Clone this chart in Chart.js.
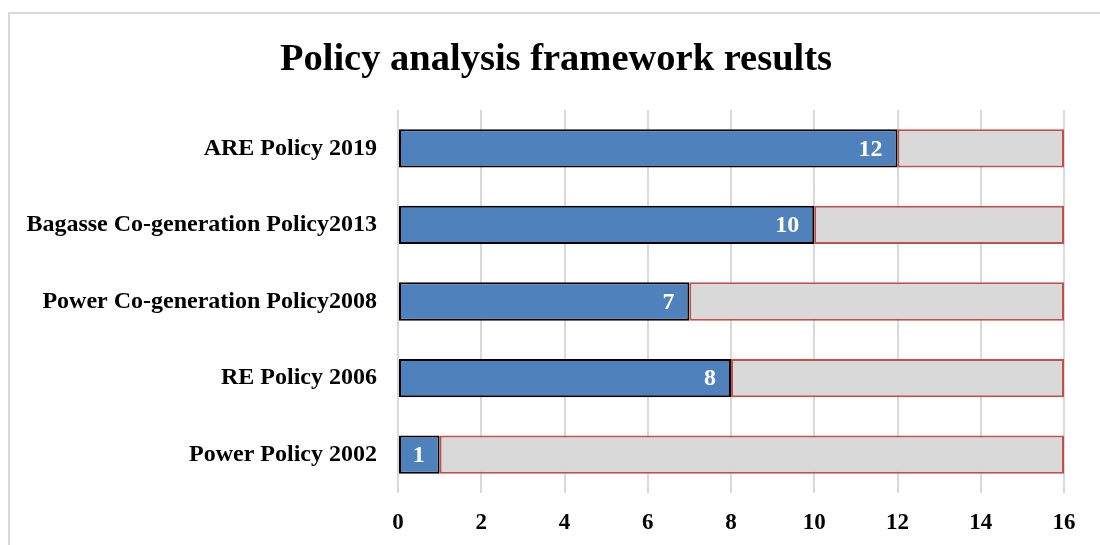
<!DOCTYPE html>
<html>
<head>
<meta charset="utf-8">
<script src="https://cdn.jsdelivr.net/npm/chart.js@4/dist/chart.umd.min.js"></script>
<style>
  html, body { margin: 0; padding: 0; background: #fff; }
  #wrap { width: 1100px; height: 545px; position: relative; }
</style>
</head>
<body>
<div id="wrap"><canvas id="c" width="1100" height="545"></canvas></div>
<script>
const categories = [
  "ARE Policy 2019",
  "Bagasse Co-generation Policy2013",
  "Power Co-generation Policy2008",
  "RE Policy 2006",
  "Power Policy 2002"
];
const scores = [12, 10, 7, 8, 1];
const remaining = [4, 6, 9, 8, 15];
const xTicks = [0, 2, 4, 6, 8, 10, 12, 14, 16];
const chartTitle = "Policy analysis framework results";

const FONT = "'Liberation Serif', 'Times New Roman', serif";

const frame = {
  id: 'frame',
  afterLayout(chart) {
    const t = chart.titleBlock;
    if (t) { t.left = 48; t.width = t.right - t.left; }
  },
  beforeDraw(chart) {
    const ctx = chart.ctx;
    ctx.save();
    ctx.fillStyle = '#fff';
    ctx.fillRect(0, 0, chart.width, chart.height);
    ctx.strokeStyle = '#d9d9d9';
    ctx.lineWidth = 2;
    ctx.strokeRect(9, 13, 1200, 600);
    ctx.restore();
  }
};

const valueLabels = {
  id: 'valueLabels',
  afterDatasetsDraw(chart) {
    const ctx = chart.ctx;
    const meta = chart.getDatasetMeta(0);
    ctx.save();
    ctx.fillStyle = '#ffffff';
    ctx.font = "bold 24px " + FONT;
    ctx.textAlign = 'right';
    ctx.textBaseline = 'middle';
    meta.data.forEach((bar, i) => {
      ctx.fillText(String(scores[i]), bar.x - 15, bar.y + 1);
    });
    ctx.restore();
  }
};

new Chart(document.getElementById('c'), {
  type: 'bar',
  data: {
    labels: categories,
    datasets: [
      {
        data: scores,
        backgroundColor: '#4f81bd',
        borderColor: '#000000',
        borderWidth: 2,
        borderSkipped: false,
        barPercentage: 0.5,
        categoryPercentage: 1
      },
      {
        data: remaining,
        backgroundColor: '#d9d9d9',
        borderColor: '#c0504d',
        borderWidth: 2,
        borderSkipped: false,
        barPercentage: 0.5,
        categoryPercentage: 1
      }
    ]
  },
  options: {
    indexAxis: 'y',
    responsive: false,
    animation: false,
    devicePixelRatio: 1,
    layout: { padding: { left: 0, right: 36, top: 0, bottom: 0 } },
    plugins: {
      legend: { display: false },
      tooltip: { enabled: false },
      title: {
        display: true,
        text: chartTitle,
        color: '#000',
        font: { family: FONT, size: 38.5, weight: 'bold' },
        padding: { top: 37, bottom: 26.8 }
      }
    },
    scales: {
      x: {
        stacked: true,
        min: 0,
        max: 16,
        afterBuildTicks(axis) { axis.ticks = xTicks.map(v => ({ value: v })); },
        afterFit(axis) { axis.height = 52; },
        grid: { color: '#d9d9d9', lineWidth: 2, drawTicks: false },
        border: { display: false },
        ticks: {
          color: '#000',
          padding: 16,
          font: { family: FONT, size: 23, weight: 'bold' }
        }
      },
      y: {
        stacked: true,
        afterFit(axis) { axis.width = 398; },
        grid: { display: false, drawTicks: false },
        border: { display: false },
        ticks: {
          color: '#000',
          padding: 21,
          font: { family: FONT, size: 24, weight: 'bold' }
        }
      }
    }
  },
  plugins: [frame, valueLabels]
});
</script>
</body>
</html>
